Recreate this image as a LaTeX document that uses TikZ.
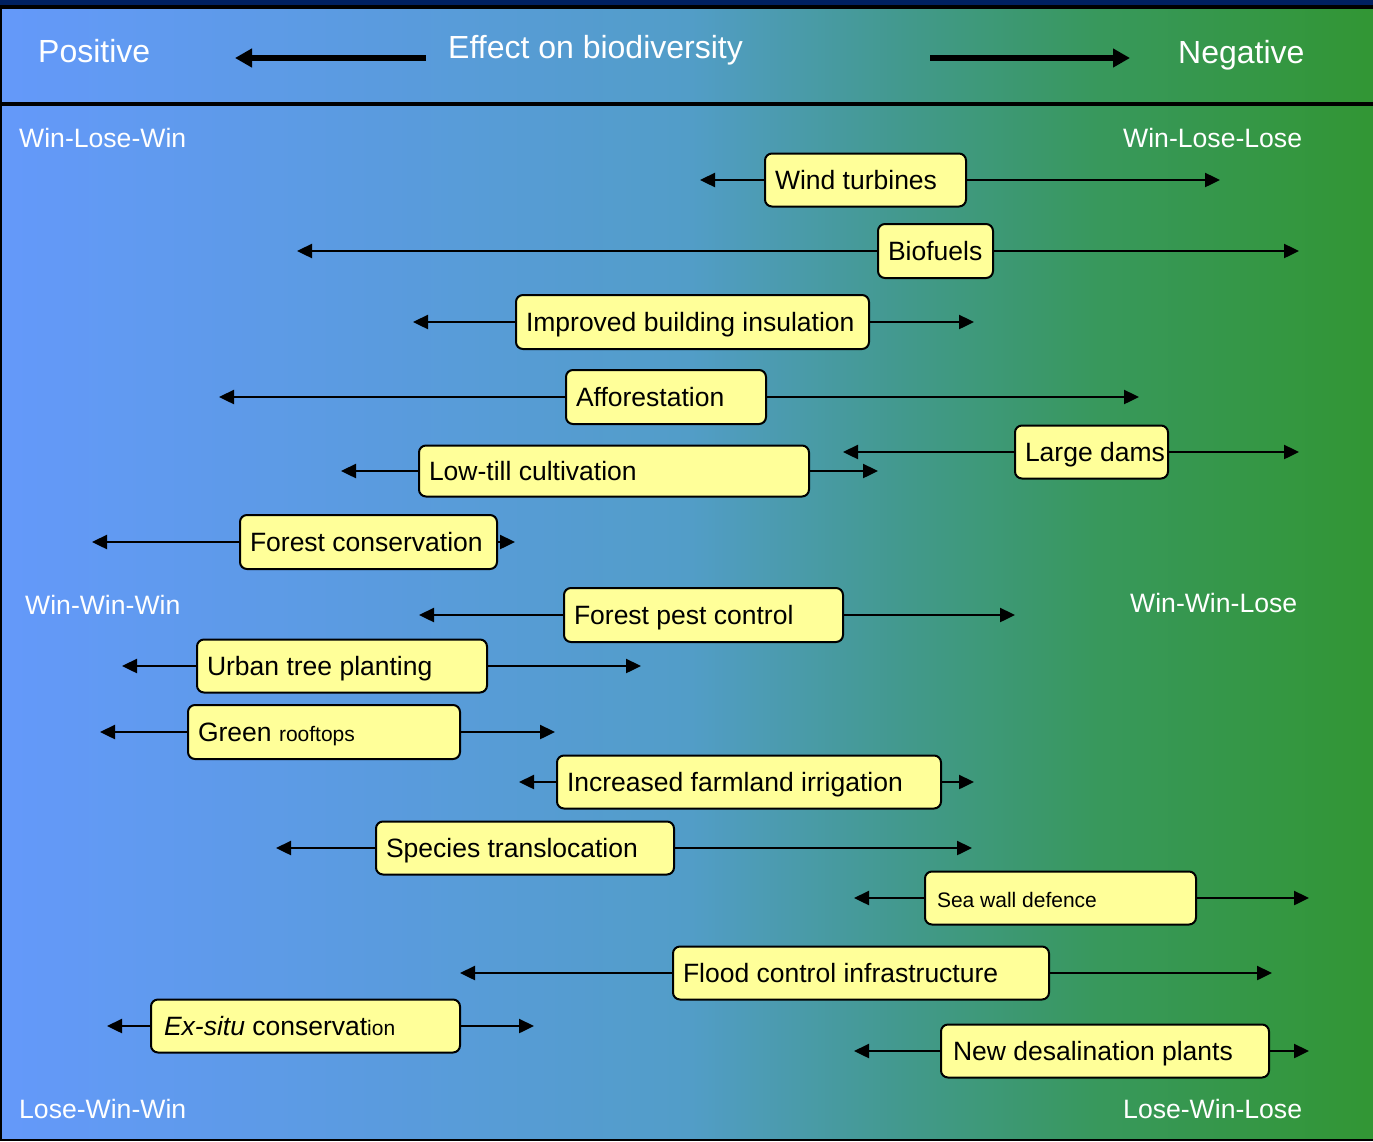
\documentclass[tikz,border=0pt]{standalone}
\usepackage{fontspec}
\setmainfont{Liberation Sans}
\usetikzlibrary{arrows.meta}
\definecolor{navy}{RGB}{0,32,96}
\definecolor{boxyellow}{RGB}{255,255,153}
\definecolor{g0}{RGB}{100,153,250}
\definecolor{g1}{RGB}{82,157,200}
\definecolor{g2}{RGB}{66,153,140}
\definecolor{g3}{RGB}{56,152,92}
\definecolor{g4}{RGB}{50,150,52}
\pgfdeclarehorizontalshading{bgshade}{100bp}{color(0bp)=(g0); color(25bp)=(g0); color(50bp)=(g1); color(58bp)=(g2); color(65bp)=(g3); color(75bp)=(g4); color(100bp)=(g4)}
\newcommand\bxt[2]{\makebox[#1pt][l]{\hspace{10pt}#2}}
\newcommand\smallf{\fontsize{21}{25}\selectfont}
\begin{document}
\begin{tikzpicture}[x=1pt,y=-1pt,
  box/.style={draw=black, line width=2pt, fill=boxyellow, rounded corners=7pt,
    inner sep=0pt, minimum height=53pt, anchor=west,
    font=\fontsize{26.5}{30}\selectfont, text height=25pt, text depth=5.5pt},
  conn/.style={line width=2.4pt, -{Triangle[length=15pt,width=14pt]}},
  hdr/.style={line width=6pt, -{Triangle[length=17pt,width=18pt]}},
  lbl/.style={text=white, font=\fontsize{26.6}{30}\selectfont, inner sep=0pt, anchor=base west},
  hlbl/.style={text=white, font=\fontsize{32}{36}\selectfont, inner sep=0pt, anchor=base west}]
\useasboundingbox (0,0) rectangle (1373,1141);
% background
\fill[black] (0,0) rectangle (1373,1141);
\fill[navy] (0,0) rectangle (1373,5);
\shade[shading=bgshade] (2,9) rectangle (1373,1138);
\fill[black] (0,102) rectangle (1373,106);
% header
\node[hlbl] (pos) at (38,62) {Positive};
\node[hlbl] (eff) at (448,58) {Effect on biodiversity};
\node[hlbl] (neg) at (1178,63) {Negative};
\coordinate (hl0) at (426,58);
\coordinate (hl1) at (235,58);
\coordinate (hr0) at (930,58);
\coordinate (hr1) at (1130,58);
\draw[hdr] (hl0) -- (hl1);
\draw[hdr] (hr0) -- (hr1);
% corner labels
\node[lbl] (wlw) at (19,147) {Win-Lose-Win};
\node[lbl] (wll) at (1123,147) {Win-Lose-Lose};
\node[lbl] (www) at (25,614) {Win-Win-Win};
\node[lbl] (wwl) at (1130,612) {Win-Win-Lose};
\node[lbl] (lww) at (19,1118) {Lose-Win-Win};
\node[lbl] (lwl) at (1123,1118) {Lose-Win-Lose};
% boxes
\node[box] (b1) at (764,180) {\bxt{201}{Wind turbines}};
\node[box, minimum height=54pt] (b2) at (877,251) {\bxt{115}{Biofuels}};
\node[box, minimum height=54pt] (b3) at (515,322) {\bxt{353}{Improved building insulation}};
\node[box, minimum height=54pt] (b4) at (565,397) {\bxt{200}{Afforestation}};
\node[box] (b5) at (1014,452) {\bxt{153}{Large dams}};
\node[box, minimum height=51pt] (b6) at (418,471) {\bxt{390}{Low-till cultivation}};
\node[box, minimum height=54pt] (b7) at (239,542) {\bxt{257}{Forest conservation}};
\node[box, minimum height=54pt] (b8) at (563,615) {\bxt{279}{Forest pest control}};
\node[box] (b9) at (196,666) {\bxt{290}{Urban tree planting}};
\node[box, minimum height=54pt] (b10) at (187,732) {\bxt{272}{Green {\smallf rooftops}}};
\node[box] (b11) at (556,782) {\bxt{384}{Increased farmland irrigation}};
\node[box] (b12) at (375,848) {\bxt{298}{Species translocation}};
\node[box] (b13) at (924,898) {\bxt{271}{\hspace{2pt}{\smallf Sea wall defence}}};
\node[box] (b14) at (672,973) {\bxt{376}{Flood control infrastructure}};
\node[box] (b15) at (150,1026) {\bxt{309}{\hspace{3pt}\textit{Ex-situ} conservat{\smallf ion}}};
\node[box] (b16) at (940,1051) {\bxt{328}{\hspace{2pt}New desalination plants}};
% arrow ends
\coordinate (b1l) at (700,180);   \coordinate (b1r) at (1220,180);
\coordinate (b2l) at (297,251);   \coordinate (b2r) at (1299,251);
\coordinate (b3l) at (413,322);   \coordinate (b3r) at (974,322);
\coordinate (b4l) at (219,397);   \coordinate (b4r) at (1139,397);
\coordinate (b5l) at (843,452);   \coordinate (b5r) at (1299,452);
\coordinate (b6l) at (341,471);   \coordinate (b6r) at (878,471);
\coordinate (b7l) at (92,542);    \coordinate (b7r) at (515,542);
\coordinate (b8l) at (419,615);   \coordinate (b8r) at (1015,615);
\coordinate (b9l) at (122,666);   \coordinate (b9r) at (641,666);
\coordinate (b10l) at (100,732);  \coordinate (b10r) at (555,732);
\coordinate (b11l) at (519,782);  \coordinate (b11r) at (974,782);
\coordinate (b12l) at (276,848);  \coordinate (b12r) at (972,848);
\coordinate (b13l) at (854,898);  \coordinate (b13r) at (1309,898);
\coordinate (b14l) at (460,973);  \coordinate (b14r) at (1272,973);
\coordinate (b15l) at (107,1026); \coordinate (b15r) at (534,1026);
\coordinate (b16l) at (854,1051); \coordinate (b16r) at (1309,1051);
\foreach \i in {1,...,16}{
  \draw[conn] (b\i.west) -- (b\i l);
  \draw[conn] (b\i.east) -- (b\i r);
}
\end{tikzpicture}
\end{document}
